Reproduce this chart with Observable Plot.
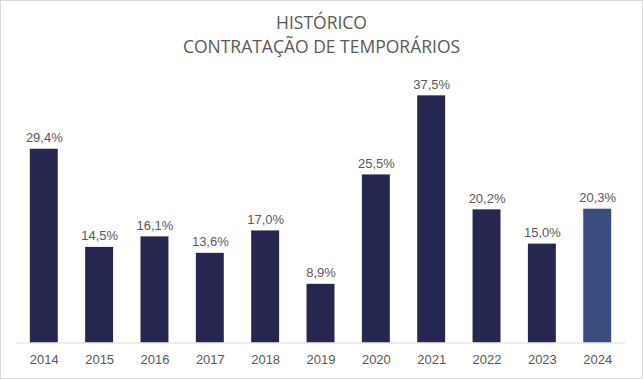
<!DOCTYPE html>
<html>
<head>
<meta charset="utf-8">
<script src="https://cdn.jsdelivr.net/npm/d3@7"></script>
<script src="https://cdn.jsdelivr.net/npm/@observablehq/plot@0.6"></script>
<style>
  html, body { margin: 0; padding: 0; background: #fff; }
  #wrap { position: relative; width: 643px; height: 379px; box-sizing: border-box; border: 1px solid #d9d9d9; overflow: hidden; }
  #title { position: absolute; left: 0; top: 9px; width: 100%; text-align: center; font-family: "Open Sans", "Noto Sans", sans-serif; font-size: 17.5px; line-height: 24px; color: #595959; z-index: 2; }
  #chart { position: absolute; left: -1px; top: -1px; }
</style>
</head>
<body>
<div id="wrap">
  <div id="title">HISTÓRICO<br>CONTRATAÇÃO DE TEMPORÁRIOS</div>
  <div id="chart"></div>
</div>
<script>
const years = ["2014","2015","2016","2017","2018","2019","2020","2021","2022","2023","2024"];
const values = [29.4, 14.5, 16.1, 13.6, 17.0, 8.9, 25.5, 37.5, 20.2, 15.0, 20.3];
const highlight = "2024";

const data = years.map((y, i) => ({year: y, value: values[i]}));
const fmt = v => v.toFixed(1).replace(".", ",") + "%";

const chart = Plot.plot({
  width: 643,
  height: 379,
  marginLeft: 16,
  marginRight: 17,
  marginTop: 79,
  marginBottom: 36,
  style: {fontFamily: "'Liberation Sans', Arial, sans-serif", fontSize: "13px", color: "#595959", background: "transparent"},
  x: {domain: years, paddingInner: 0.495, paddingOuter: 0.25, round: false, label: null},
  y: {domain: [0, 40], axis: null},
  marks: [
    Plot.barY(data, {x: "year", y: "value", fill: d => d.year === highlight ? "#3a4c7d" : "#252750"}),
    Plot.ruleY([0], {stroke: "#d9d9d9", strokeWidth: 1}),
    Plot.text(data, {x: "year", y: "value", text: d => fmt(d.value), lineAnchor: "bottom", dy: -7, fill: "#595959", fontSize: 13}),
    Plot.axisX({tickSize: 0, tickPadding: 12, fontSize: 13, fill: "#595959", label: null})
  ]
});
document.getElementById("chart").appendChild(chart);
</script>
</body>
</html>
